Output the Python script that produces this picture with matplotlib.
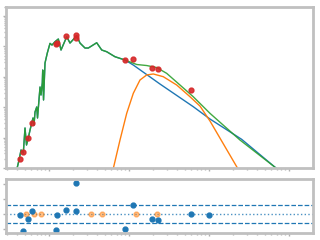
import numpy as np
import matplotlib
matplotlib.use('Agg')
import matplotlib.pyplot as plt

# optical/UV part of the model, shared by stellar and total curves
uv_lam = [0.0402, 0.0422, 0.0447, 0.0477, 0.0501, 0.0523, 0.0551, 0.0579, 0.0608,
          0.0631, 0.0649, 0.0668, 0.0702, 0.0718, 0.0735, 0.0772, 0.0794, 0.0824,
          0.0834, 0.0854, 0.0891, 0.0952,
          0.1029, 0.109, 0.1189, 0.1307, 0.1413, 0.1665, 0.183, 0.222, 0.244,
          0.2818, 0.3098, 0.3946, 0.456, 0.526, 0.668, 0.891]
uv_flux = [0.0108, 0.0183, 0.0391, 0.0311, 0.207, 0.0571, 0.097, 0.178, 0.302,
           0.442, 0.259, 0.695, 1.016, 0.442, 0.942, 4.62, 2.52, 6.25,
           16.7, 1.73, 28.4, 60.7,
           126, 111, 143, 175, 76.2, 208, 129, 225, 129,
           88.5, 88.5, 132, 76.2, 66.9, 45.8, 35.7]

# stellar tail (blue)
star_lam = [1.132, 2.44, 6.36, 10.29, 25.6, 68.8, 137]
star_flux = [24.4, 5.79, 1.04, 0.409, 0.0879, 0.01, 0.00189]

# total model tail (green)
tot_lam = [1.248, 1.664, 2.22, 2.96, 4.34, 6.36, 10.29, 24.4, 68.8, 137]
tot_flux = [25.4, 23.5, 20.2, 13.0, 5.37, 2.21, 0.629, 0.0834, 0.01, 0.00189]

# dust component (orange)
dust_lam = [0.579, 0.637, 0.772, 0.936, 1.132, 1.372, 1.664, 2.013, 2.68,
            3.95, 5.79, 7.72, 10.29, 22.6, 28.2]
dust_flux = [0.00276, 0.00977, 0.0834, 0.629, 2.87, 7.85, 11.5, 12.4, 10.1,
             5.37, 2.21, 1.09, 0.352, 0.0102, 0.00403]

# observed photometry
obs_lam = [0.0438, 0.0477, 0.0551, 0.0618, 0.1234, 0.127, 0.1645, 0.219, 0.219,
           0.900, 1.13, 1.954, 2.32, 6.01]
obs_flux = [0.0193, 0.0328, 0.0948, 0.295, 117, 132, 220, 232, 185,
            34.9, 38.5, 19.5, 17.7, 3.68]

# residuals
res_lam = [0.0438, 0.0473, 0.0551, 0.0618, 0.1234, 0.127, 0.1645, 0.219, 0.219,
           0.900, 1.13, 1.954, 2.32, 6.01, 10.1]
res_val = [-0.07, -1.09, -0.29, 0.25, -1.02, -0.07, 0.31, 2.11, 0.25,
           -0.95, 0.65, -0.29, -0.37, 0.03, -0.02]
nodata_lam = [0.052, 0.0655, 0.080, 0.338, 0.464, 1.233, 2.26]
nodata_val = [0, 0, 0, 0, 0, 0, 0]

fig = plt.figure(figsize=(3.2, 2.4), dpi=100)
ax = fig.add_axes([0.0203, 0.30, 0.9563, 0.672])
ax2 = fig.add_axes([0.0203, 0.0304, 0.9563, 0.2225])

ax.plot(uv_lam + star_lam, uv_flux + star_flux, color='C0', lw=1)
ax.plot(dust_lam, dust_flux, color='C1', lw=1)
ax.plot(uv_lam + tot_lam, uv_flux + tot_flux, color='C2', lw=1, alpha=0.9)
ax.plot(obs_lam, obs_flux, 'o', color='C3', ms=3.5, alpha=0.9)
ax.set_xscale('log')
ax.set_yscale('log')
ax.set_xlim(0.0294, 197)
ax.set_ylim(0.01, 2023)

ax2.axhline(0, color='C0', ls=':', lw=1, alpha=0.8)
ax2.axhline(0.6, color='C0', ls='--', lw=0.9)
ax2.axhline(-0.6, color='C0', ls='--', lw=0.9)
ax2.plot(nodata_lam, nodata_val, 'o', color='C1', ms=3.5, alpha=0.5)
ax2.plot(res_lam, res_val, 'o', color='C0', ms=3.5)
ax2.set_xscale('log')
ax2.set_xlim(0.0294, 197)
ax2.set_ylim(-1.23, 2.33)
ax2.set_yticks([-1, 0, 1, 2])

for a in (ax, ax2):
    for s in a.spines.values():
        s.set_color('#c0c0c0')
        s.set_linewidth(2)
    a.tick_params(which='both', colors='#b0b0b0', labelleft=False, labelbottom=False,
                  length=2, width=1)
    a.tick_params(which='minor', length=1.5)

plt.savefig('out.png', dpi=100)
